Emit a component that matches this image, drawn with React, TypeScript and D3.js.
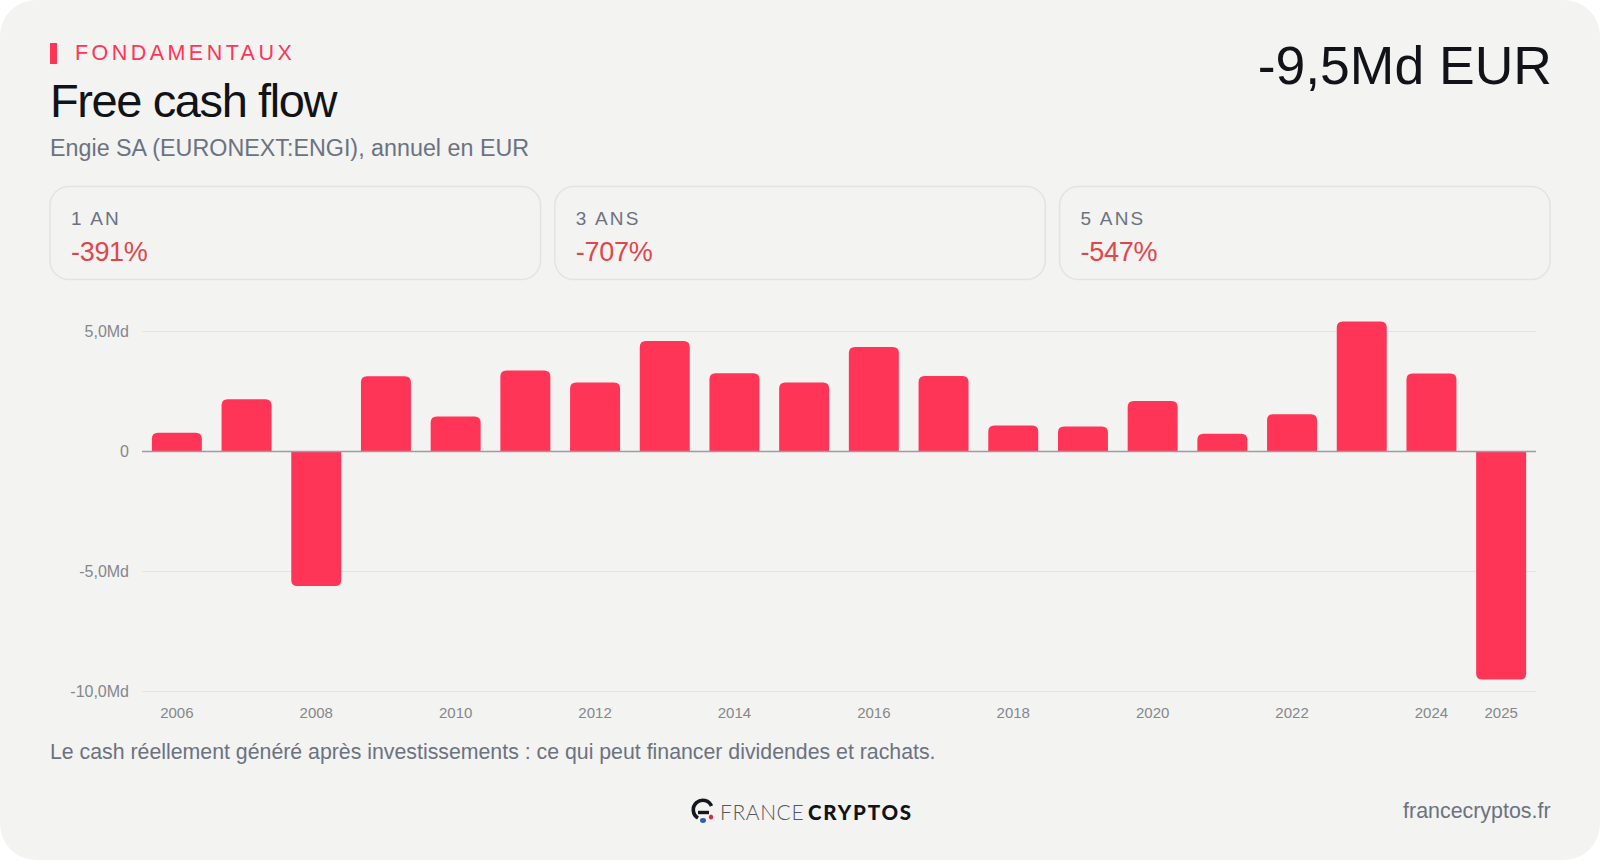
import * as d3 from "d3";

const years = ["2006", "2007", "2008", "2009", "2010", "2011", "2012", "2013", "2014", "2015", "2016", "2017", "2018", "2019", "2020", "2021", "2022", "2023", "2024", "2025"];
const fcf = [0.78, 2.18, -5.6, 3.14, 1.46, 3.37, 2.87, 4.6, 3.26, 2.87, 4.35, 3.15, 1.08, 1.04, 2.1, 0.74, 1.55, 5.42, 3.25, -9.5];
const yearTicks = ["2006", "2008", "2010", "2012", "2014", "2016", "2018", "2020", "2022", "2024", "2025"];
const valueTicks = [5, 0, -5, -10];
const valueTickLabels = ["5,0Md", "0", "-5,0Md", "-10,0Md"];
const statLabels = ["1 AN", "3 ANS", "5 ANS"];
const statValues = ["-391%", "-707%", "-547%"];

const RED = "#ff3557";
const GREY = "#6b7280";
const FONT = "'Liberation Sans', Arial, sans-serif";

const x = d3.scaleBand<string>().domain(years).range([142, 1536]).paddingInner(0.283).paddingOuter(0.1415);
const y = d3.scaleLinear().domain([-10, 5]).range([691.5, 331.5]);

// bar with the two far corners rounded
function barPath(year: string, v: number) {
    const x0 = x(year)!;
    const w = x.bandwidth();
    const y0 = y(0);
    const y1 = y(v);
    const r = Math.min(6, Math.abs(y1 - y0));
    const s = v > 0 ? 1 : -1;
    const p = d3.path();
    p.moveTo(x0, y0);
    p.lineTo(x0, y1 + s * r);
    p.quadraticCurveTo(x0, y1, x0 + r, y1);
    p.lineTo(x0 + w - r, y1);
    p.quadraticCurveTo(x0 + w, y1, x0 + w, y1 + s * r);
    p.lineTo(x0 + w, y0);
    p.closePath();
    return p.toString();
}

export default function App() {
    return (
        <svg width={1600} height={860} viewBox="0 0 1600 860" fontFamily={FONT} style={{ position: "fixed", left: 0, top: 0 }}>
            <rect width={1600} height={860} fill="#fff" />
            <rect width={1600} height={860} rx={36} fill="#f3f3f1" />

            <rect x={50} y={43} width={7} height={21} fill={RED} />
            <text x={75} y={60} fontSize={21.5} letterSpacing={3.45} fill={RED}>FONDAMENTAUX</text>
            <text x={50} y={117} fontSize={47} letterSpacing={-1.4} fill="#111318">Free cash flow</text>
            <text x={50} y={156} fontSize={23.3} fill={GREY}>Engie SA (EURONEXT:ENGI), annuel en EUR</text>
            <text x={1552} y={84} fontSize={53.5} textAnchor="end" fill="#111318">-9,5Md EUR</text>

            {statLabels.map((label, i) => {
                const left = 50 + i * 504.8;
                return (
                    <g key={label}>
                        <rect x={left} y={186.5} width={490.5} height={93} rx={19} fill="none" stroke="#e3e3e1" strokeWidth={1.5} />
                        <text x={left + 21} y={224.5} fontSize={19} letterSpacing={2.2} fill={GREY}>{label}</text>
                        <text x={left + 21} y={261} fontSize={27} letterSpacing={-0.3} fill="#e0474c">{statValues[i]}</text>
                    </g>
                );
            })}

            {valueTicks.map((t, i) => (
                <g key={t}>
                    {t !== 0 && <line x1={142} x2={1536} y1={y(t)} y2={y(t)} stroke="#e4e4e2" strokeWidth={1.2} />}
                    <text x={129} y={y(t) + 5} fontSize={16} textAnchor="end" fill="#85878c">{valueTickLabels[i]}</text>
                </g>
            ))}

            {years.map((yr, i) => (
                <path key={yr} d={barPath(yr, fcf[i])} fill={RED} />
            ))}
            <line x1={142} x2={1536} y1={y(0)} y2={y(0)} stroke="#9a9ca6" strokeWidth={1.5} />

            {yearTicks.map(yr => (
                <text key={yr} x={x(yr)! + x.bandwidth() / 2} y={718} fontSize={15} textAnchor="middle" fill="#85878c">{yr}</text>
            ))}

            <text x={50} y={759} fontSize={21.3} fill={GREY}>Le cash réellement généré après investissements : ce qui peut financer dividendes et rachats.</text>

            {/* logo */}
            <g>
                <path d="M711.5 806 A9.5 9.5 0 1 0 698 818" fill="none" stroke="#15171c" strokeWidth={3.6} />
                <path d="M698 812.5 H709" stroke="#15171c" strokeWidth={3.4} />
                <ellipse cx={703} cy={820.5} rx={3} ry={2.4} fill="#2f5fb0" />
                <ellipse cx={711} cy={817} rx={2.2} ry={2.6} fill="#e0284a" />
                <text x={720} y={820} fontSize={21} fontFamily="Lato, sans-serif" fontWeight={300} letterSpacing={0.6} fill="#55575c">FRANCE</text>
                <text x={808} y={820} fontSize={20.5} fontFamily="Lato, sans-serif" fontWeight={900} letterSpacing={1.8} fill="#111318">CRYPTOS</text>
            </g>

            <text x={1550.5} y={817.5} fontSize={21.4} textAnchor="end" fill={GREY}>francecryptos.fr</text>
        </svg>
    );
}
